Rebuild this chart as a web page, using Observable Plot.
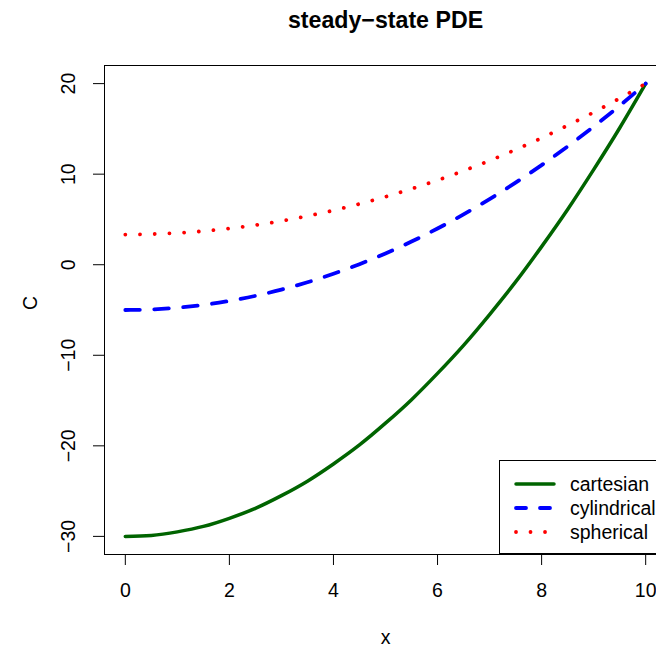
<!DOCTYPE html>
<html>
<head>
<meta charset="utf-8">
<script src="https://cdn.jsdelivr.net/npm/d3@7"></script>
<script src="https://cdn.jsdelivr.net/npm/@observablehq/plot@0.6"></script>
<style>
  html, body { margin: 0; padding: 0; background: #fff; }
  #wrap { position: relative; width: 656px; height: 648px; overflow: hidden; font-family: "Liberation Sans", Arial, Helvetica, sans-serif; }
  #legend { position: absolute; left: 499px; top: 460px; width: 200px; height: 94px; border: 1px solid #000; background: #fff; box-sizing: border-box; }
  #legend svg { position: absolute; left: 0; top: 0; }
</style>
</head>
<body>
<div id="wrap"></div>
<script>
// Values
const xs = [0, 0.5, 1, 1.5, 2, 2.5, 3, 3.5, 4, 4.5, 5, 5.5, 6, 6.5, 7, 7.5, 8, 8.5, 9, 9.5, 10];
const cartesian = [-30, -29.9, -29.5, -28.9, -28, -26.9, -25.5, -23.9, -22, -19.9, -17.5, -14.9, -12, -8.9, -5.5, -1.9, 2, 6.1, 10.5, 15.1, 20];
const cylindrical = [-5, -4.94, -4.75, -4.44, -4, -3.44, -2.75, -1.94, -1, 0.06, 1.25, 2.56, 4, 5.56, 7.25, 9.06, 11, 13.06, 15.25, 17.56, 20];
const spherical = [3.33, 3.38, 3.5, 3.71, 4, 4.38, 4.83, 5.38, 6, 6.71, 7.5, 8.38, 9.33, 10.38, 11.5, 12.71, 14, 15.38, 16.83, 18.38, 20];
const seriesNames = ["cartesian", "cylindrical", "spherical"];
const seriesColors = ["#006400", "#0000ff", "#ff0000"];
const xTicks = [0, 2, 4, 6, 8, 10];
const yTicks = [-30, -20, -10, 0, 10, 20];
const title = "steady\u2212state PDE";
const xLabel = "x";
const yLabel = "C";

const fmt = d => String(d).replace("-", "\u2212");
const toRows = ys => xs.map((x, i) => ({x, y: ys[i]}));
const seriesData = [cartesian, cylindrical, spherical].map(toRows);
const dashes = [null, "14.5 14.5", "0.01 14.7"];
const caps = ["round", "round", "round"];
const widths = [3.5, 3.8, 3.8];
const font = '"Liberation Sans", Arial, Helvetica, sans-serif';
const fs = 19.5;

const chart = Plot.plot({
  width: 656,
  height: 648,
  marginLeft: 104,
  marginRight: -10,
  marginTop: 65,
  marginBottom: 94,
  style: {fontFamily: font, fontSize: fs + "px", background: "#fff", color: "#000"},
  x: {domain: [-0.4, 10.4]},
  y: {domain: [-32, 22]},
  marks: [
    Plot.axisX({ticks: xTicks, tickSize: 11, tickPadding: 18, tickFormat: fmt, fontSize: fs, stroke: "#000", label: null}),
    Plot.axisY({ticks: yTicks, tickSize: 11, tickFormat: () => "", stroke: "#000", label: null}),
    Plot.text(yTicks, {y: d => d, text: d => fmt(d), frameAnchor: "left", dx: -36, rotate: -90, textAnchor: "middle", lineAnchor: "middle", fontSize: fs, fill: "#000"}),
    ...seriesData.map((rows, i) => Plot.line(rows, {
      x: "x", y: "y", curve: "natural",
      stroke: seriesColors[i], strokeWidth: widths[i],
      strokeDasharray: dashes[i], strokeLinecap: caps[i]
    })),
    Plot.frame({stroke: "#000", strokeWidth: 1}),
    Plot.text([title], {frameAnchor: "top", dy: -45, fontSize: 23.2, fontWeight: "bold", fill: "#000", lineAnchor: "middle"}),
    Plot.text([xLabel], {frameAnchor: "bottom", dy: 83, fontSize: fs, fill: "#000", lineAnchor: "middle"}),
    Plot.text([yLabel], {frameAnchor: "left", dx: -74, rotate: -90, fontSize: fs, fill: "#000", lineAnchor: "middle"})
  ]
});
const wrap = document.getElementById("wrap");
wrap.appendChild(chart);

// Legend
const leg = document.createElement("div");
leg.id = "legend";
const ns = "http://www.w3.org/2000/svg";
const svg = document.createElementNS(ns, "svg");
svg.setAttribute("width", 200);
svg.setAttribute("height", 94);
seriesNames.forEach((name, i) => {
  const yy = 23 + i * 24;
  const ln = document.createElementNS(ns, "line");
  ln.setAttribute("x1", 16); ln.setAttribute("x2", 54);
  ln.setAttribute("y1", yy); ln.setAttribute("y2", yy);
  ln.setAttribute("stroke", seriesColors[i]);
  ln.setAttribute("stroke-width", widths[i]);
  ln.setAttribute("stroke-linecap", caps[i]);
  if (dashes[i]) ln.setAttribute("stroke-dasharray", i === 1 ? "10 14" : "0.01 14.5");
  svg.appendChild(ln);
  const t = document.createElementNS(ns, "text");
  t.setAttribute("x", 70); t.setAttribute("y", yy);
  t.setAttribute("dy", "0.35em");
  t.setAttribute("font-size", fs);
  t.setAttribute("font-family", font);
  t.textContent = name;
  svg.appendChild(t);
});
leg.appendChild(svg);
wrap.appendChild(leg);
</script>
</body>
</html>
